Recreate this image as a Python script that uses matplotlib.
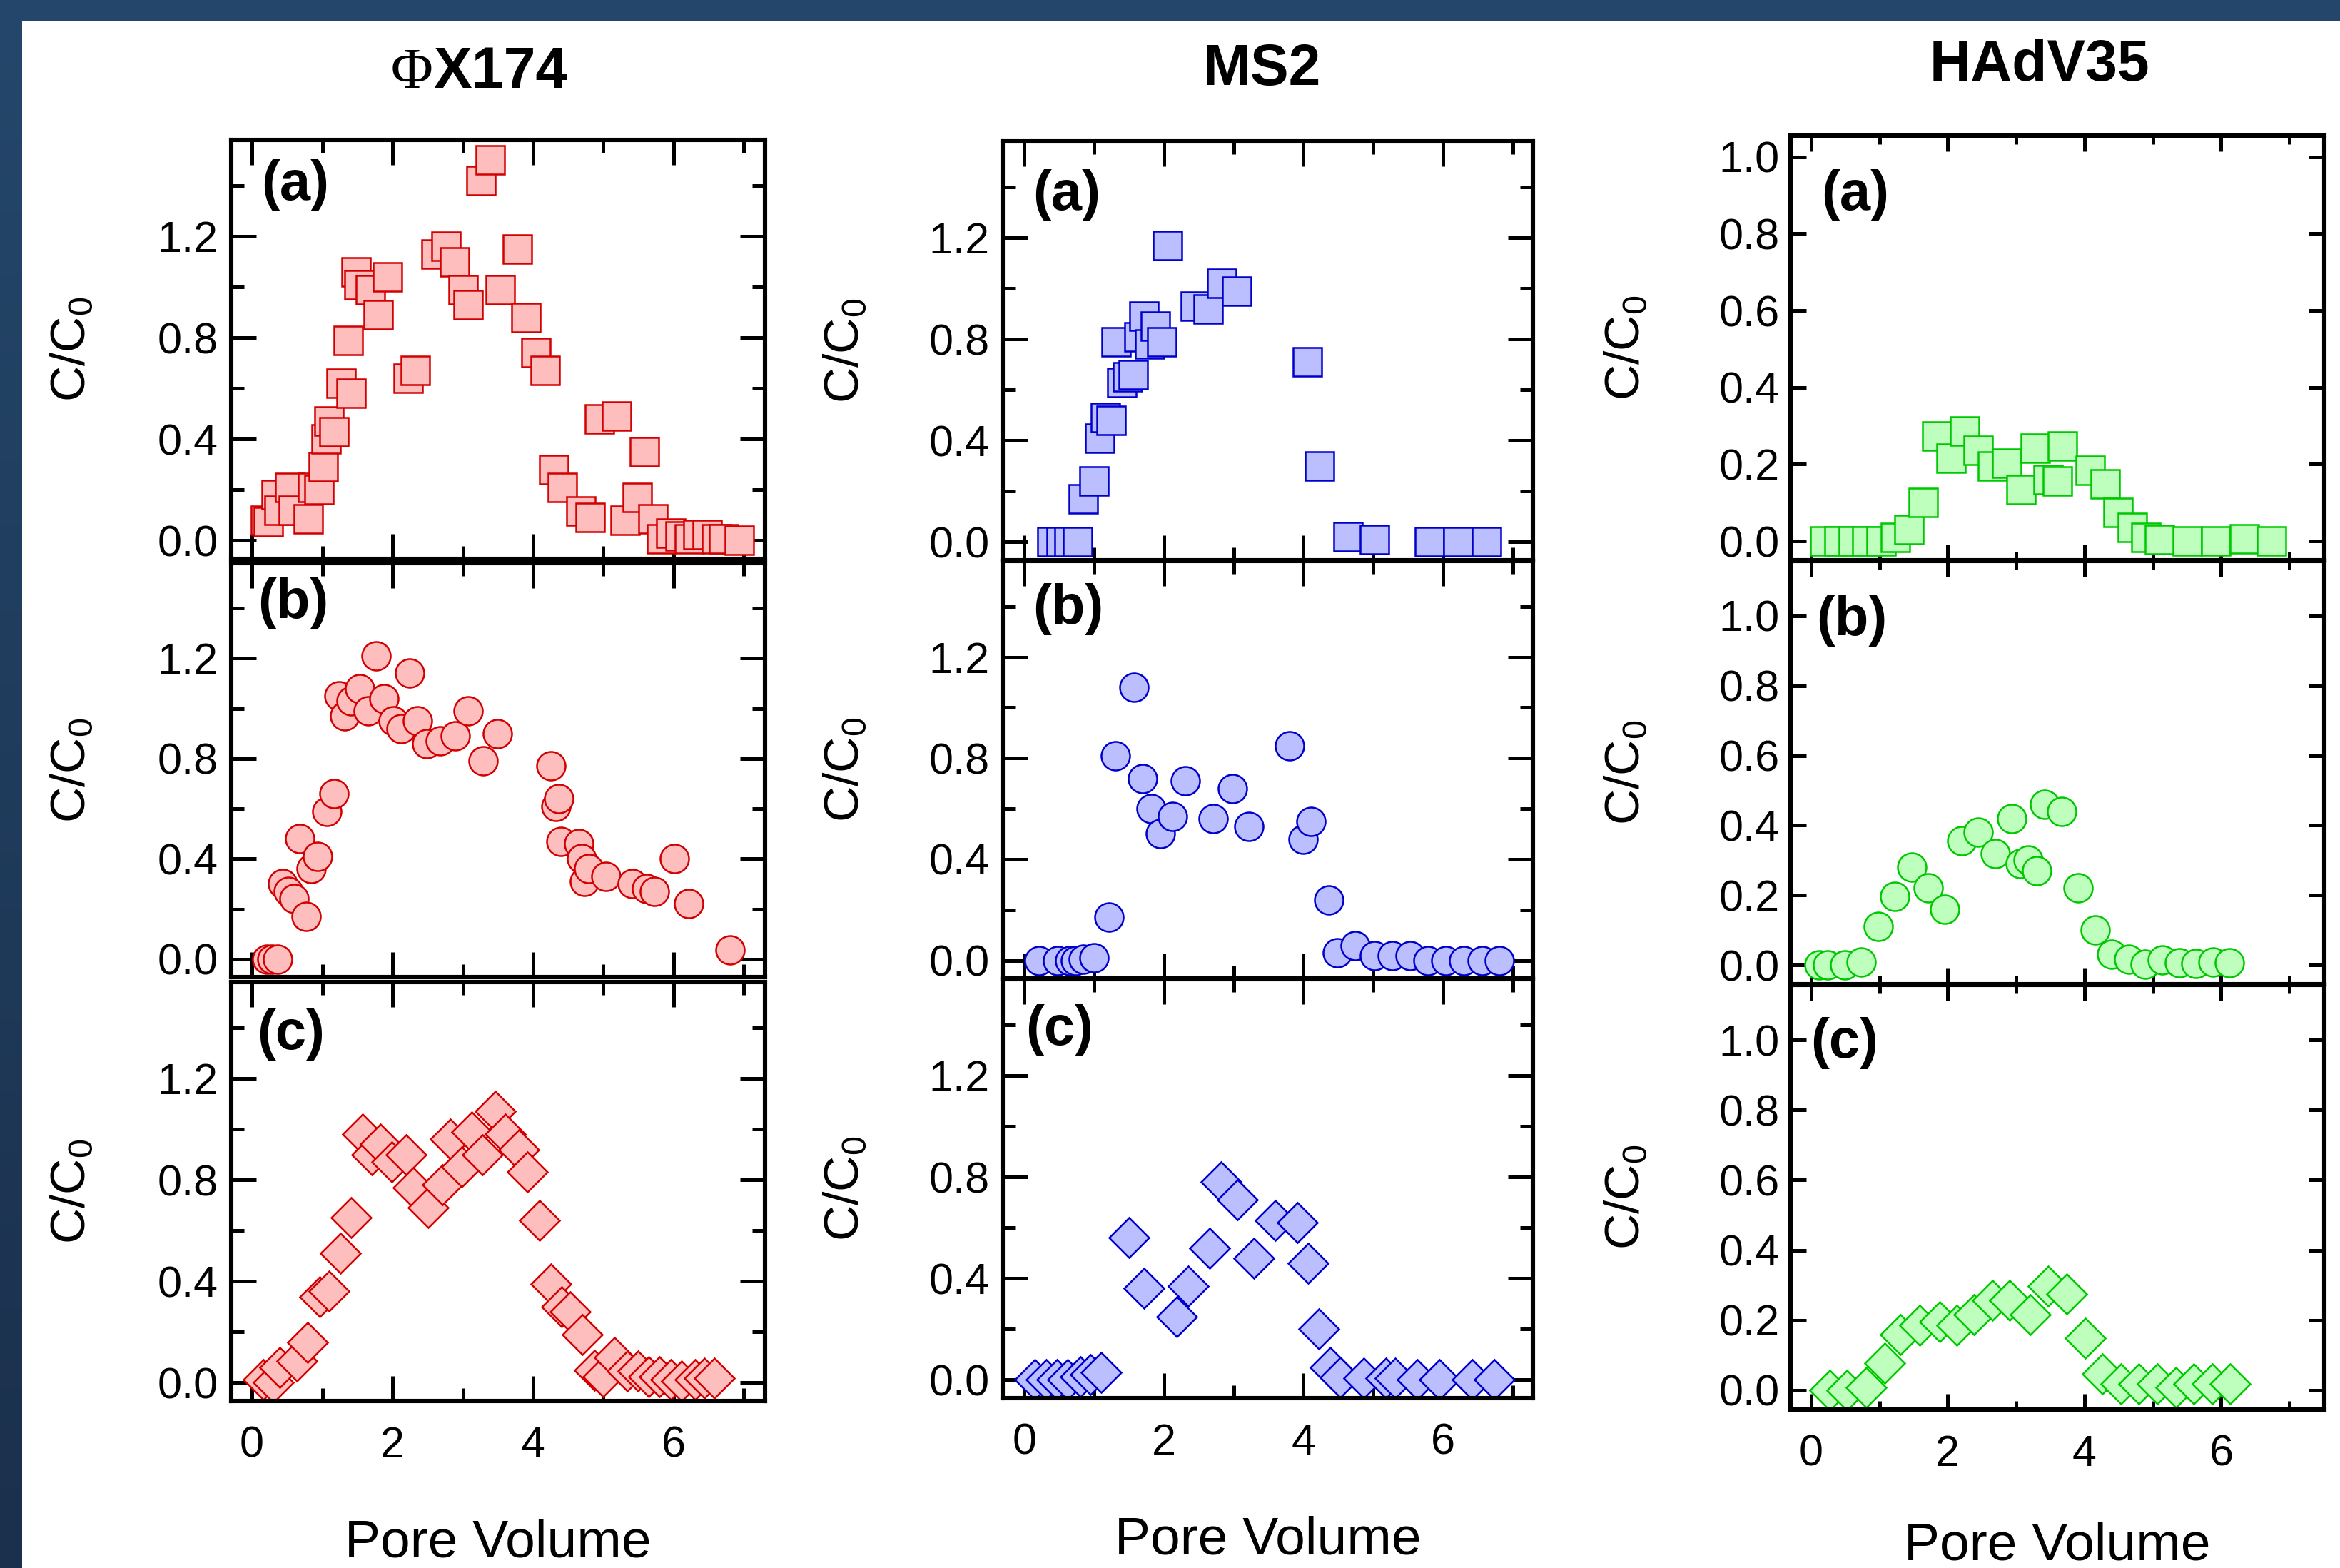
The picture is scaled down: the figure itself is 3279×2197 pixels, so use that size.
import matplotlib
matplotlib.use("Agg")
import matplotlib.pyplot as plt
import numpy as np
from matplotlib.patches import Rectangle
from matplotlib.colors import LinearSegmentedColormap
from matplotlib.ticker import FixedLocator,FormatStrFormatter

plt.rcParams['font.family']=['Liberation Sans','DejaVu Sans']
plt.rcParams['mathtext.fontset']='custom'
plt.rcParams['mathtext.rm']='Liberation Sans'

W,H=3280,2197
DPI=200

# ---- data (pore volume, C/C0) ----
phiA_x=[0.19,0.23,0.34,0.39,0.54,0.59,0.80,0.86,0.95,1.01,1.06,1.10,1.17,1.27,1.37,1.41,1.48,1.52,1.68,1.80,
        1.93,2.22,2.32,2.62,2.76,2.88,3.01,3.08,3.26,3.39,3.53,3.78,3.90,4.04,4.17,4.29,4.42,4.68,4.81,4.94,
        5.19,5.31,5.48,5.58,5.71,5.83,5.96,6.09,6.22,6.35,6.48,6.61,6.71,6.93]
phiA_y=[0.08,0.075,0.18,0.12,0.21,0.12,0.086,0.21,0.20,0.29,0.40,0.47,0.43,0.62,0.79,0.58,1.06,1.01,0.99,0.89,
        1.04,0.64,0.67,1.13,1.16,1.10,0.99,0.93,1.42,1.50,0.99,1.15,0.88,0.74,0.67,0.28,0.21,0.116,0.09,0.48,
        0.49,0.08,0.17,0.35,0.086,0.008,0.028,0.019,0.008,0.024,0.024,0.008,0.008,0.002]
phiB_x=[0.21,0.28,0.37,0.44,0.52,0.60,0.68,0.77,0.84,0.93,1.07,1.17,1.24,1.32,1.41,1.53,1.65,1.77,1.88,2.01,
        2.12,2.24,2.36,2.49,2.68,2.89,3.08,3.29,3.49,4.25,4.32,4.37,4.40,4.65,4.69,4.73,4.79,5.04,5.41,5.61,
        5.73,6.01,6.21,6.80]
phiB_y=[0.0,0.0,0.0,0.30,0.27,0.24,0.48,0.17,0.36,0.41,0.59,0.66,1.05,0.97,1.03,1.08,0.99,1.21,1.04,0.95,
        0.92,1.14,0.95,0.86,0.87,0.89,0.99,0.79,0.90,0.77,0.61,0.64,0.47,0.46,0.40,0.31,0.36,0.33,0.30,0.28,
        0.27,0.40,0.22,0.035]
phiC_x=[0.16,0.30,0.40,0.64,0.79,0.96,1.10,1.26,1.41,1.57,1.71,1.83,1.99,2.19,2.29,2.51,2.71,2.82,2.98,3.13,
        3.28,3.46,3.60,3.80,3.92,4.09,4.25,4.41,4.53,4.70,4.87,5.00,5.16,5.34,5.49,5.65,5.80,5.96,6.11,6.30,
        6.44,6.58]
phiC_y=[0.013,0.0,0.06,0.085,0.16,0.34,0.36,0.51,0.65,0.98,0.90,0.94,0.87,0.90,0.77,0.69,0.78,0.96,0.85,0.99,
        0.90,1.07,0.98,0.92,0.83,0.64,0.39,0.30,0.28,0.19,0.05,0.024,0.10,0.047,0.047,0.024,0.024,0.013,0.008,0.013,
        0.018,0.018]

ms2A_x=[0.40,0.53,0.64,0.76,0.85,1.00,1.08,1.16,1.24,1.32,1.40,1.48,1.56,1.64,1.72,1.80,1.88,1.97,2.05,2.45,
        2.64,2.83,3.04,4.06,4.23,4.64,5.02,5.81,6.22,6.63]
ms2A_y=[0.0,0.0,0.0,0.0,0.17,0.24,0.41,0.49,0.48,0.79,0.63,0.65,0.66,0.81,0.89,0.78,0.85,0.79,1.17,0.93,
        0.92,1.02,0.99,0.71,0.30,0.02,0.011,0.0,0.0,0.0]
ms2B_x=[0.21,0.48,0.65,0.73,0.85,1.00,1.21,1.31,1.57,1.69,1.82,1.95,2.12,2.31,2.71,2.98,3.22,3.80,4.00,4.11,
        4.36,4.49,4.74,5.02,5.27,5.53,5.79,6.04,6.30,6.56,6.81]
ms2B_y=[0.0,0.0,0.0,0.0,0.003,0.009,0.17,0.81,1.08,0.72,0.60,0.50,0.57,0.71,0.56,0.68,0.53,0.85,0.48,0.55,
        0.24,0.03,0.058,0.017,0.017,0.017,0.0,0.0,0.0,0.0,0.0]
ms2C_x=[0.15,0.31,0.47,0.62,0.80,0.95,1.10,1.50,1.72,2.19,2.35,2.66,2.82,3.06,3.29,3.60,3.91,4.07,4.22,4.38,
        4.53,4.87,5.18,5.32,5.63,5.95,6.42,6.74]
ms2C_y=[0.0,0.0,0.0,0.0,0.013,0.02,0.03,0.56,0.36,0.25,0.37,0.52,0.78,0.71,0.48,0.63,0.62,0.46,0.20,0.05,
        0.011,0.006,0.006,0.006,0.002,0.002,0.002,0.002]

hadA_x=[0.20,0.41,0.62,0.82,1.03,1.23,1.43,1.64,1.84,2.05,2.25,2.45,2.65,2.86,3.07,3.28,3.47,3.61,3.68,4.09,
        4.30,4.49,4.70,4.90,5.10,5.51,5.92,6.34,6.74]
hadA_y=[0.0,0.0,0.0,0.0,0.0,0.01,0.03,0.10,0.273,0.215,0.287,0.236,0.196,0.203,0.134,0.242,0.159,0.156,0.247,0.184,
        0.148,0.075,0.035,0.009,0.004,0.0,0.0,0.005,0.0]
hadB_x=[0.12,0.24,0.49,0.73,0.98,1.22,1.47,1.72,1.96,2.21,2.45,2.70,2.94,3.06,3.18,3.30,3.42,3.67,3.91,4.16,
        4.40,4.65,4.89,5.14,5.39,5.63,5.88,6.12]
hadB_y=[0.0,0.0,0.0,0.008,0.11,0.196,0.28,0.22,0.16,0.356,0.38,0.32,0.42,0.29,0.30,0.27,0.46,0.44,0.22,0.10,
        0.03,0.016,0.003,0.014,0.006,0.004,0.008,0.006]
hadC_x=[0.27,0.52,0.81,1.08,1.31,1.59,1.88,2.13,2.38,2.66,2.91,3.21,3.47,3.74,4.01,4.26,4.53,4.80,5.07,5.34,
        5.60,5.87,6.13]
hadC_y=[0.0,0.0,0.008,0.077,0.158,0.186,0.196,0.186,0.216,0.256,0.256,0.216,0.297,0.276,0.148,0.047,0.019,0.019,0.019,0.008,
        0.019,0.019,0.019]

# title split as (prefix in serif, rest in bold sans)
titleHead=["\u03a6","",""]
titleTail=["X174","MS2","HAdV35"]
panelLabels=["(a)","(b)","(c)"]
seriesX=[[phiA_x,phiB_x,phiC_x],[ms2A_x,ms2B_x,ms2C_x],[hadA_x,hadB_x,hadC_x]]
seriesY=[[phiA_y,phiB_y,phiC_y],[ms2A_y,ms2B_y,ms2C_y],[hadA_y,hadB_y,hadC_y]]

# ---- styles / layout (pixels of the 3280x2197 canvas) ----
edgeColors=["#D20000","#0000CC","#00C800"]
faceColors=["#FFBEBE","#BBBEFF","#BEFFBE"]
markers=["s","o","D"]
colLR=[(324,1072),(1405,2148),(2509,3257)]
rowTB=[[(196,783),(789,1369),(1376,1963)],
       [(198,785),(786,1371),(1372,1959)],
       [(190,785),(786,1379),(1380,1975)]]
xlims=[(-0.295,7.3),(-0.31,7.29),(-0.30,7.51)]
ylims=[[(-0.072,1.58)]*3,[(-0.072,1.58)]*3,[(-0.05,1.055),(-0.055,1.157),(-0.055,1.157)]]
lblOff=[[(42,27),(37,20),(36,37)],[(42,39),(42,31),(32,35)],[(43,47),(36,47),(28,45)]]
titlePos=[(607,123),(1768,119),(2858,113)]
ylabX=[100,1184,2278]
xlabBase=[2181,2177,2185]

fig=plt.figure(figsize=(W/DPI,H/DPI),dpi=DPI,facecolor="white")

# dark frame on top and left edge
fig.patches.append(Rectangle((0,1-28/H),1,28/H,transform=fig.transFigure,color="#24466A",zorder=0))
bgAx=fig.add_axes([0,0,31/W,1])
bgAx.imshow(np.linspace(0,1,200).reshape(-1,1),aspect="auto",
            cmap=LinearSegmentedColormap.from_list("frame",["#24476B","#1B304C"]))
bgAx.axis("off")

def pxAxes(l,t,r,b):
    return fig.add_axes([l/W,1-b/H,(r-l)/W,(b-t)/H])

for c in range(3):
    l,r=colLR[c]
    for k in range(3):
        t,b=rowTB[c][k]
        ax=pxAxes(l,t,r,b)
        ax.plot(seriesX[c][k],seriesY[c][k],linestyle="none",marker=markers[k],markersize=14.4,
                markerfacecolor=faceColors[c],markeredgecolor=edgeColors[c],markeredgewidth=0.9)
        ax.set_xlim(*xlims[c]);ax.set_ylim(*ylims[c][k])
        ax.xaxis.set_major_locator(FixedLocator([0,2,4,6]))
        ax.xaxis.set_minor_locator(FixedLocator([1,3,5,7]))
        if c<2:
            ax.yaxis.set_major_locator(FixedLocator([0,0.4,0.8,1.2]))
            ax.yaxis.set_minor_locator(FixedLocator([0.2,0.6,1.0,1.4]))
            majL,minL,ypad=12.5,6.5,6.5
        else:
            ax.yaxis.set_major_locator(FixedLocator([0,0.2,0.4,0.6,0.8,1.0]))
            majL,minL,ypad=8,4.3,5.5
        ax.yaxis.set_major_formatter(FormatStrFormatter("%.1f"))
        ax.tick_params(which="both",direction="in",top=True,right=True,width=1.8,labelsize=22)
        ax.tick_params(which="major",length=majL)
        ax.tick_params(which="minor",length=minL)
        ax.tick_params(axis="y",pad=ypad)
        ax.tick_params(axis="x",pad=12.6,labelbottom=(k==2))
        for sp in ax.spines.values():
            sp.set_linewidth(2.2)
        dx,dy=lblOff[c][k]
        ax.text(dx/(r-l),1-dy/(b-t),panelLabels[k],transform=ax.transAxes,ha="left",va="top",
                fontsize=28,fontweight="bold")
        fig.text(ylabX[c]/W,1-(t+b)/2/H,r"C/C$_0$",rotation=90,ha="center",va="center",fontsize=25)
    tx,ty=titlePos[c]
    if titleHead[c]:
        fig.text(tx/W,1-ty/H,titleHead[c],ha="right",va="baseline",fontsize=29,
                 family=["Liberation Serif","DejaVu Serif"])
        fig.text(tx/W,1-ty/H,titleTail[c],ha="left",va="baseline",fontsize=29,fontweight="bold")
    else:
        fig.text(tx/W,1-ty/H,titleTail[c],ha="center",va="baseline",fontsize=29,fontweight="bold")
    fig.text((l+r)/2/W,1-xlabBase[c]/H,"Pore Volume",ha="center",va="baseline",fontsize=27)

fig.savefig("out.png",dpi=DPI,facecolor=fig.get_facecolor())
